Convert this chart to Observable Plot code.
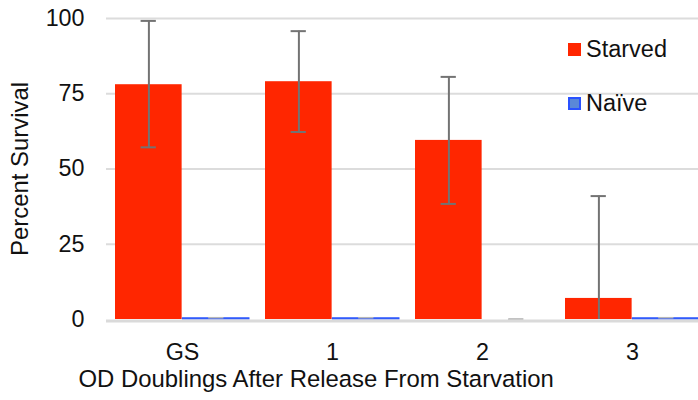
<!DOCTYPE html>
<html><head><meta charset="utf-8">
<script src="https://cdn.jsdelivr.net/npm/d3@7"></script>
<script src="https://cdn.jsdelivr.net/npm/@observablehq/plot@0.6"></script>
<style>
body{margin:0;background:#fff;font-family:"Liberation Sans",Arial,Helvetica,sans-serif;}
#wrap{position:relative;width:698px;height:400px;overflow:hidden;}
.leg{position:absolute;font-size:23.5px;color:#111;display:flex;align-items:center;}
.sw{width:13px;height:13px;margin-right:5px;box-sizing:border-box;}
</style></head>
<body><div id="wrap"></div>
<script>
const groups = ["GS", "1", "2", "3"];
const starved = [78, 79, 59.5, 7];
const starvedLo = [57.2, 62.3, 38.4, 0];
const starvedHi = [99.2, 95.8, 80.6, 41];
const naive = [0.4, 0.4, 0, 0.4];
const naiveLo = [0.2, 0.2, 0, 0.2];
const naiveHi = [0.6, 0.6, 0.2, 0.6];
const yTicks = [0, 25, 50, 75, 100];
const series = ["Starved", "Naïve"];
const colors = ["#ff2600", "#2a52ff"];

const sData = groups.map((g, i) => ({g, v: starved[i], lo: starvedLo[i], hi: starvedHi[i]}));
const nData = groups.map((g, i) => ({g, v: naive[i], lo: naiveLo[i], hi: naiveHi[i]}));

const BW = 150.75;
const FS = 23.3;
const TS = 23.9;
const plot = Plot.plot({
  width: 698, height: 400,
  marginLeft: 106, marginRight: 0, marginTop: 18, marginBottom: 81,
  style: {fontFamily: '"Liberation Sans", Arial, sans-serif', fontSize: FS + "px", color: "#111"},
  x: {domain: groups, range: [105.5, 105.5 + 4 * BW], padding: 0},
  y: {domain: [0, 100], ticks: yTicks},
  marks: [
    Plot.ruleY(yTicks.filter(d => d > 0), {stroke: "#dcdcdc", strokeWidth: 2}),
    Plot.barY(sData, {x: "g", y: "v", fill: colors[0], insetLeft: 8, insetRight: BW / 2}),
    Plot.barY(nData.filter(d => d.v > 0), {x: "g", y1: 0, y2: "v", fill: "#4f7fe0", stroke: colors[1], strokeWidth: 1, insetLeft: BW / 2, insetRight: 8}),
    Plot.ruleY([0], {stroke: "#dadada", strokeWidth: 3, dy: 1.5}),
    Plot.ruleX(sData, {x: "g", y1: "lo", y2: "hi", stroke: "#737373", strokeWidth: 2, dx: -33.6}),
    Plot.tickY(sData, {x: "g", y: "hi", stroke: "#737373", strokeWidth: 2, insetLeft: 33.6, insetRight: BW - 49.6}),
    Plot.tickY(sData.filter(d => d.lo > 0), {x: "g", y: "lo", stroke: "#737373", strokeWidth: 2, insetLeft: 33.6, insetRight: BW - 49.6}),
    Plot.tickY(nData, {x: "g", y: "hi", stroke: "#b8b8b8", strokeWidth: 1.5, insetLeft: BW - 49.6, insetRight: 33.6}),
    Plot.axisY({ticks: yTicks, tickSize: 0, tickPadding: 22, fontSize: FS, label: null}),
    Plot.axisX({tickSize: 0, tickPadding: 24, fontSize: FS, label: null}),
    Plot.text(["Percent Survival"], {frameAnchor: "left", textAnchor: "middle", dx: -86, rotate: -90, fontSize: TS, fill: "#111"}),
    Plot.text(["OD Doublings After Release From Starvation"], {frameAnchor: "bottom-left", textAnchor: "start", dx: -28, dy: 67, fontSize: TS, fill: "#111"})
  ]
});
const wrap = document.getElementById("wrap");
wrap.appendChild(plot);
const legPos = [[36, false], [90, true]];
series.forEach((s, i) => {
  const d = document.createElement("div");
  d.className = "leg";
  d.style.left = "568px"; d.style.top = legPos[i][0] + "px";
  const sw = document.createElement("div");
  sw.className = "sw";
  if (i === 0) sw.style.background = colors[0];
  else { sw.style.background = "#5a88d8"; sw.style.border = "2px solid " + colors[1]; }
  d.appendChild(sw);
  const t = document.createElement("span"); t.textContent = s; d.appendChild(t);
  wrap.appendChild(d);
});
</script></body></html>
